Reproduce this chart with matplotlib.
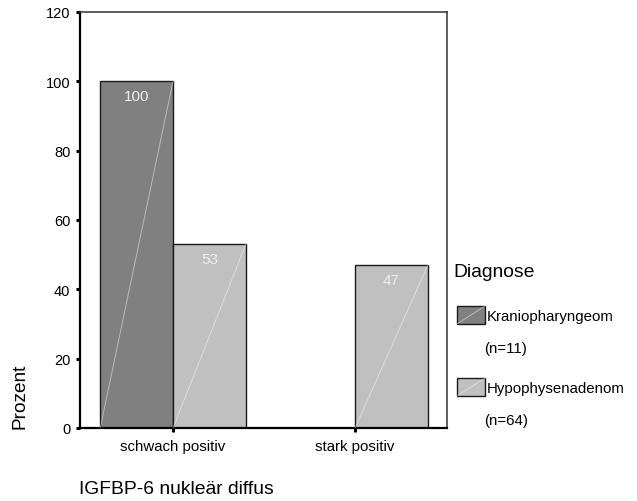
import matplotlib
matplotlib.use("Agg")
import matplotlib.pyplot as plt
from matplotlib.patches import Rectangle
from matplotlib.lines import Line2D
import numpy as np

plt.rcParams['font.family'] = ['Liberation Sans', 'DejaVu Sans']

categories = ["schwach positiv", "stark positiv"]
series_names = ["Kraniopharyngeom", "Hypophysenadenom"]
series_n = ["(n=11)", "(n=64)"]
kranio = [100, 0]
hypo = [53, 47]
yticks = [0, 20, 40, 60, 80, 100, 120]
colors = ["#808080", "#c0c0c0"]

W, H = 637, 502
fig = plt.figure(figsize=(W / 100, H / 100), dpi=100)
ax_l, ax_r, ax_t, ax_b = 80, 447, 13, 429
ax = fig.add_axes([ax_l / W, 1 - ax_b / H, (ax_r - ax_l) / W, (ax_b - ax_t) / H])

x = np.arange(len(categories))
width = 0.4
for vals, off, col in [(kranio, -width / 2, colors[0]), (hypo, width / 2, colors[1])]:
    bars = ax.bar(x + off, vals, width, color=col, edgecolor="#1a1a1a", linewidth=1.0, zorder=2)
    for b, v in zip(bars, vals):
        x0 = b.get_x()
        x1 = x0 + b.get_width()
        if v > 0:
            ax.plot([x0, x1], [0, v], color="white", alpha=0.45, lw=0.7, zorder=3)
            ax.annotate(f"{v}", (x0 + b.get_width() / 2, v), xytext=(0, -15),
                        textcoords="offset pixels", ha="center", va="center",
                        color="#eeeeee", fontsize=11, zorder=4)

ax.set_xlim(-0.511, 1.505)
ax.set_ylim(0, 120)
ax.set_yticks(yticks)
ax.set_yticklabels([str(t) for t in yticks], fontsize=10.5)
ax.set_xticks(x)
ax.set_xticklabels(categories, fontsize=10.8)
ax.tick_params(axis="both", direction="out", length=3, width=2.2, colors="black", pad=4)
ax.tick_params(axis="x", pad=5)
for s in ["left", "bottom"]:
    ax.spines[s].set_linewidth(1.6)
for s in ["top", "right"]:
    ax.spines[s].set_linewidth(1.1)
    ax.spines[s].set_color("#333333")

fig.text(20 / W, 1 - 429 / H, "Prozent", rotation=90, ha="center", va="bottom", fontsize=13.7)
fig.text(79 / W, 1 - 490 / H, "IGFBP-6 nukleär diffus", ha="left", va="center", fontsize=13.9)

# legend
fig.text(453 / W, 1 - 273 / H, "Diagnose", ha="left", va="center", fontsize=13.9)
leg_y = [307, 379]
for i, (name, n, col) in enumerate(zip(series_names, series_n, colors)):
    y0 = leg_y[i]
    r = Rectangle((457 / W, 1 - (y0 + 18) / H), 28 / W, 18 / H, transform=fig.transFigure,
                  facecolor=col, edgecolor="#1a1a1a", linewidth=1.0)
    fig.add_artist(r)
    fig.add_artist(Line2D([457 / W, 485 / W], [1 - (y0 + 18) / H, 1 - y0 / H],
                          transform=fig.transFigure, color="white", alpha=0.45, lw=0.7))
    fig.text(487 / W, 1 - (y0 + 10) / H, name, ha="left", va="center", fontsize=10.85)
    fig.text(484 / W, 1 - (y0 + 42) / H, n, ha="left", va="center", fontsize=10.85)

fig.savefig("out.png", dpi=100)
